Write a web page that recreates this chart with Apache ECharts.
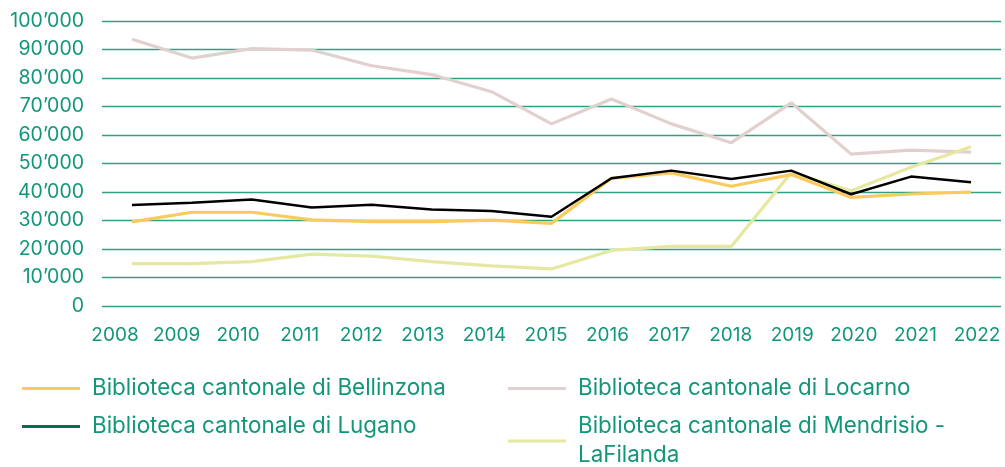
<!DOCTYPE html>
<html>
<head>
<meta charset="utf-8">
<script src="https://cdn.jsdelivr.net/npm/echarts@6/dist/echarts.min.js"></script>
<style>
html,body{margin:0;padding:0;background:#fff;}
#chart{width:1005px;height:467px;}
</style>
</head>
<body>
<div id="chart"></div>
<script>
var years = ['2008','2009','2010','2011','2012','2013','2014','2015','2016','2017','2018','2019','2020','2021','2022'];
var seriesNames = ['Biblioteca cantonale di Bellinzona','Biblioteca cantonale di Locarno','Biblioteca cantonale di Lugano','Biblioteca cantonale di Mendrisio - LaFilanda'];
var bellinzona = [29500,32900,32900,30200,29600,29600,30100,29000,44800,46700,42000,46100,38100,39300,40000];
var locarno = [93600,87000,90300,89800,84300,81200,75200,63900,72600,63900,57300,71300,53300,54700,54000];
var lugano = [35400,36200,37400,34600,35500,33900,33300,31300,44800,47500,44600,47500,39200,45400,43400];
var mendrisio = [14900,14900,15600,18200,17500,15600,14100,13000,19500,20900,20900,46800,40400,48700,55900];
var yTicks = {min:0, max:100000, interval:10000};

var GREEN = '#13977a';
var FONT = 'Inter';

function fmt(v){
  return String(v).replace(/\B(?=(\d{3})+(?!\d))/g, '\u2019');
}

var chart = echarts.init(document.getElementById('chart'), null, {renderer:'canvas'});
var legendText = {color:GREEN, fontFamily:FONT, fontSize:22.4, lineHeight:29, padding:[0,0,0,7]};
var option = {
  animation:false,
  backgroundColor:'#fff',
  grid:[
    {left:102, right:4, top:21, bottom:161, containLabel:false},
    {left:115, right:28, top:21, bottom:161, containLabel:false}
  ],
  xAxis:[
    {type:'category', gridIndex:0, data:years, boundaryGap:true,
     axisLine:{show:false}, axisTick:{show:false}, axisLabel:{show:false}, splitLine:{show:false}},
    {type:'category', gridIndex:1, data:years, boundaryGap:false,
     axisLine:{show:false}, axisTick:{show:false}, splitLine:{show:false},
     axisLabel:{show:true, color:GREEN, fontFamily:FONT, fontSize:19, margin:20, interval:0}}
  ],
  yAxis:[
    {type:'value', gridIndex:0, min:yTicks.min, max:yTicks.max, interval:yTicks.interval,
     axisLine:{show:false}, axisTick:{show:false},
     splitLine:{show:true, lineStyle:{color:'#2fa084', width:1.3}},
     axisLabel:{color:GREEN, fontFamily:FONT, fontSize:19.5, margin:18, formatter:fmt}},
    {type:'value', gridIndex:1, min:yTicks.min, max:yTicks.max, show:false}
  ],
  legend:[
    {orient:'vertical', left:22, top:374, height:120, padding:0, itemWidth:58, itemHeight:3, itemGap:9, icon:'rect',
     data:[{name:seriesNames[0]},{name:seriesNames[2], itemStyle:{color:'#0b6b50'}}],
     textStyle:legendText},
    {orient:'vertical', left:508, top:374, height:120, padding:0, itemWidth:58, itemHeight:3, itemGap:9, icon:'rect',
     data:[{name:seriesNames[1]},{name:seriesNames[3]}],
     formatter:function(n){ return n.replace(' - ', ' -\n'); },
     textStyle:legendText}
  ],
  series:[
    {name:seriesNames[1], type:'line', data:locarno, symbol:'none', color:'#e2d0ce',
     lineStyle:{width:3.2, color:'#e2d0ce'}, xAxisIndex:0, yAxisIndex:0},
    {name:seriesNames[3], type:'line', data:mendrisio, symbol:'none', color:'#e6e8a2',
     lineStyle:{width:3.2, color:'#e6e8a2'}, xAxisIndex:0, yAxisIndex:0},
    {name:seriesNames[0], type:'line', data:bellinzona, symbol:'none', color:'#f8cb5c',
     lineStyle:{width:3.2, color:'#f8cb5c'}, xAxisIndex:0, yAxisIndex:0},
    {name:seriesNames[2], type:'line', data:lugano, symbol:'none', color:'#000000',
     lineStyle:{width:2.5, color:'#000000'}, xAxisIndex:0, yAxisIndex:0}
  ]
};
chart.setOption(option);
</script>
</body>
</html>
